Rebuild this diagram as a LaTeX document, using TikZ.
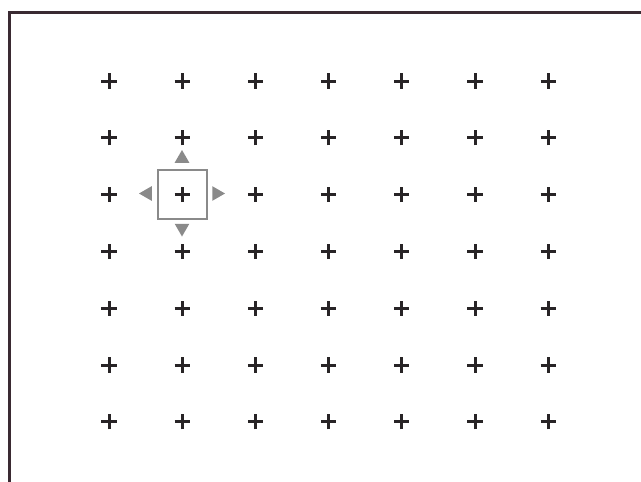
\documentclass[tikz,border=0pt]{standalone}
\usetikzlibrary{shapes.misc, shapes.geometric, positioning}

\definecolor{framecol}{RGB}{58,42,50}
\definecolor{pluscol}{RGB}{40,36,38}
\definecolor{selcol}{RGB}{138,138,138}

\begin{document}
\begin{tikzpicture}[x=1pt, y=-1pt,
      pt/.style={cross out, draw=pluscol, line width=3pt, minimum size=7.8pt, inner sep=0pt, rotate=45},
      sel/.style={draw=selcol, line width=1.8pt, minimum size=49pt, inner sep=0pt},
      tri/.style={regular polygon, regular polygon sides=3, fill=selcol, minimum size=17pt, inner sep=0pt},
    ]
      \useasboundingbox (0,0) rectangle (641,482);
      % frame
      \draw[framecol, line width=3pt] (9.5,482) -- (9.5,12) -- (641,12);
      % focus points
      \foreach \c in {0,...,6} {
        \foreach \r in {0,...,6} {
          \node[pt] (p-\c-\r) at (109+73.2*\c, 81+56.8*\r) {};
        }
      }
      % selected point
      \node[sel] (box) at (p-1-2) {};
      \node[tri] (up) at (182,158.5) {};
      \node[tri, regular polygon rotate=180] (dn) at (182,228) {};
      \node[tri, regular polygon rotate=90] (lt) at (147.5,193.5) {};
      \node[tri, regular polygon rotate=-90] (rt) at (216.5,193.5) {};
    \end{tikzpicture}
\end{document}
